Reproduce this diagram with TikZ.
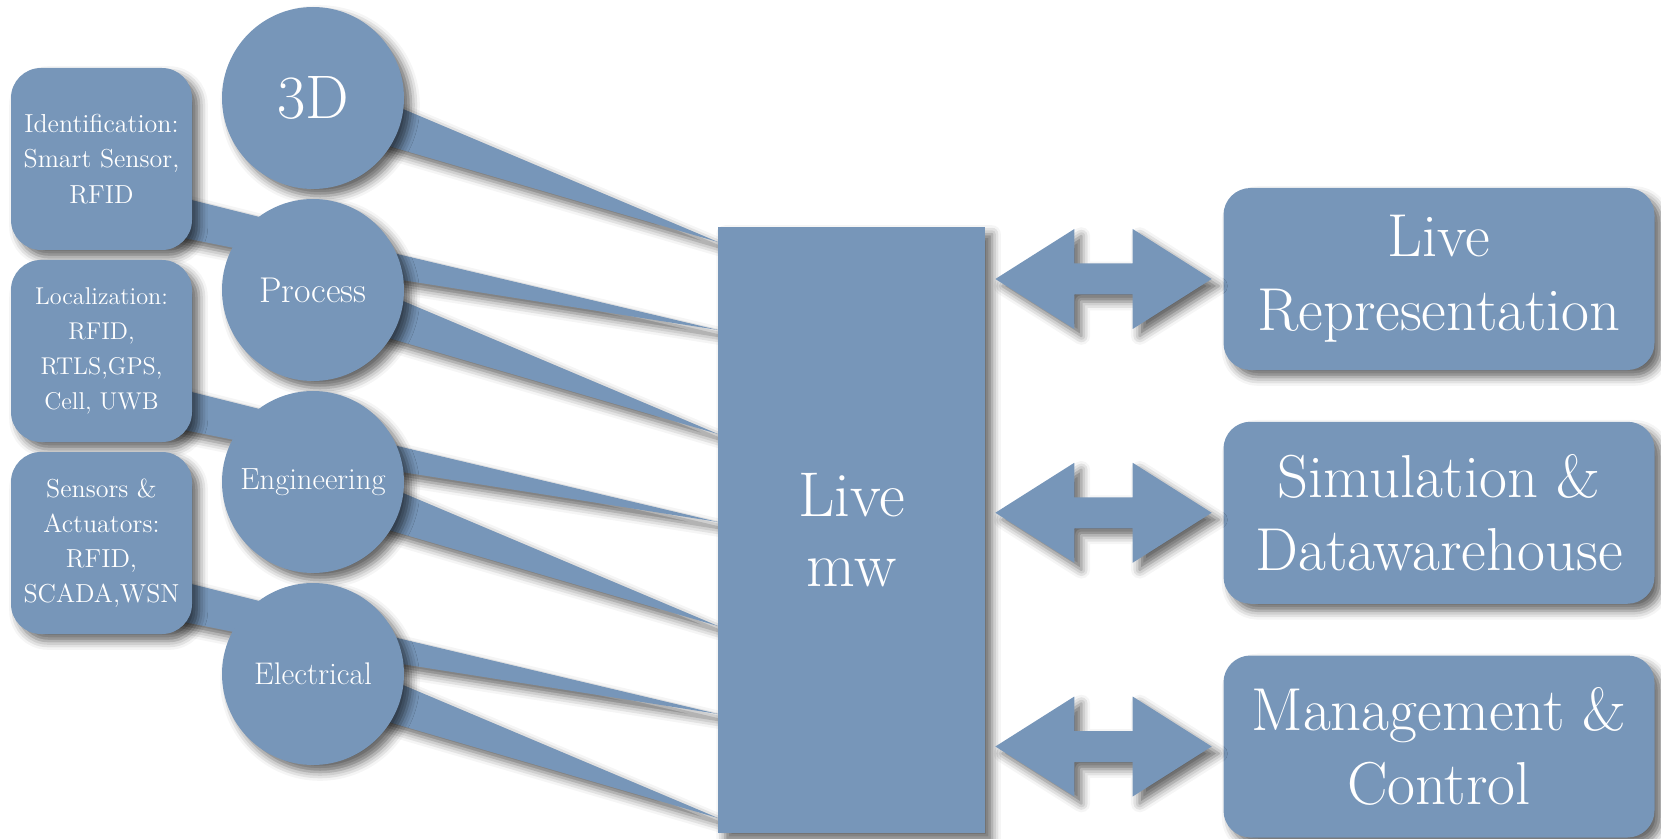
\documentclass[tikz,border=0pt]{standalone}
\usepackage{tikz}
\usetikzlibrary{positioning,calc,shadows.blur}
\definecolor{mwblue}{RGB}{119,150,185}

\begin{document}
\begin{tikzpicture}
  [node distance=3.84cm, on grid,
    soft shadow/.style={blur shadow={shadow xshift=4pt,
        shadow yshift=-4pt, shadow blur radius=5pt, shadow opacity=60}},
    topic/.style={shape=circle, fill=mwblue, text=white, align=center,
      minimum size=3.64cm, inner sep=0pt, soft shadow},
    source/.style={shape=rectangle, rounded corners=0.6cm, fill=mwblue,
      text=white, align=center, minimum width=3.62cm,
      minimum height=3.64cm, inner sep=0pt, soft shadow,
      font=\fontsize{14.8}{20}\selectfont},
    target/.style={shape=rectangle, rounded corners=0.54cm, fill=mwblue,
      text=white, align=center, minimum width=8.62cm,
      minimum height=3.64cm, inner sep=0pt, soft shadow,
      font=\fontsize{34.5}{42}\selectfont},
    mwbox/.style={shape=rectangle, fill=mwblue, text=white, align=center,
      minimum width=5.34cm, minimum height=12.12cm, soft shadow,
      font=\fontsize{36}{40}\selectfont},
    wedge/.style={fill=mwblue, soft shadow}]
  \useasboundingbox (0,0) rectangle (33.22,16.76);

  % centres first, so that the wedges can go under the nodes
  \coordinate (c-proc) at (6.26,10.96);
  \coordinate [above=of c-proc] (c-threeD);
  \coordinate [below=of c-proc] (c-eng);
  \coordinate [below=of c-eng] (c-elec);
  \coordinate [above left=2.62cm and 4.23cm of c-proc] (c-ident);
  \coordinate [above left=2.62cm and 4.23cm of c-eng] (c-local);
  \coordinate [above left=2.62cm and 4.23cm of c-elec] (c-sens);
  \coordinate (c-mw) at (17.03,6.16);

  % pointers from the sources to the topics
  \foreach \src/\tp in {ident/proc, local/eng, sens/elec}
  \fill [wedge] ($(c-\src)+(1,-0.62)$) -- ($(c-\tp)+(-0.23,1.25)$)
  -- ($(c-\tp)+(-0.23,0.57)$) -- ($(c-\src)+(1,-1.45)$) -- cycle;
  % wedges from the topics to the middleware
  \foreach \tp in {threeD,proc,eng,elec}
  \fill [wedge] ($(c-\tp)+(0,0.54)$) -- ($(c-mw |- c-\tp)+(-2.67,-2.88)$)
  -- ($(c-\tp)+(0,-0.52)$) -- cycle;
  \foreach \tp in {proc,eng,elec}
  \fill [wedge] ($(c-\tp)+(0,1.12)$) -- ($(c-mw |- c-\tp)+(-2.67,-0.8)$)
  -- ($(c-\tp)+(0,0.48)$) -- cycle;

  \node [topic, font=\fontsize{35}{38}\selectfont] (threeD) at (c-threeD)
  {3D};
  \node [topic, font=\fontsize{20.4}{24}\selectfont] (proc) at (c-proc)
  {Process};
  \node [topic, font=\fontsize{17.4}{20}\selectfont] (eng) at (c-eng)
  {Engineering};
  \node [topic, font=\fontsize{17.8}{20}\selectfont] (elec) at (c-elec)
  {Electrical};

  \node [source] (ident) at (c-ident) {Identification:\\Smart Sensor,\\RFID};
  \node [source, font=\fontsize{13.8}{20}\selectfont] (local) at (c-local)
  {Localization:\\RFID,\\RTLS,GPS,\\Cell, UWB};
  \node [source] (sens) at (c-sens) {Sensors \&\\Actuators:\\RFID,\\SCADA,WSN};

  \node [mwbox] (mw) at (c-mw) {Live\\mw};

  \node [target] (rep) at (28.78,11.18) {Live\\Representation};
  \node [target, below=4.675cm of rep] (sim) {Simulation \&\\Datawarehouse};
  \node [target, below=4.675cm of sim] (mgmt) {Management \&\\Control};

  \foreach \tg in {rep,sim,mgmt}
  \fill [wedge] ($(mw.east |- \tg)+(0.2,0)$) -- ++(1.58,1) -- ++(0,-0.69)
  -- ($(\tg.west)+(-1.81,0.31)$) -- ++(0,0.69) -- ($(\tg.west)+(-0.23,0)$)
  -- ++(-1.58,-1) -- ++(0,0.69) -- ($(mw.east |- \tg)+(1.78,-0.31)$)
  -- ++(0,-0.69) -- cycle;
\end{tikzpicture}
\end{document}
